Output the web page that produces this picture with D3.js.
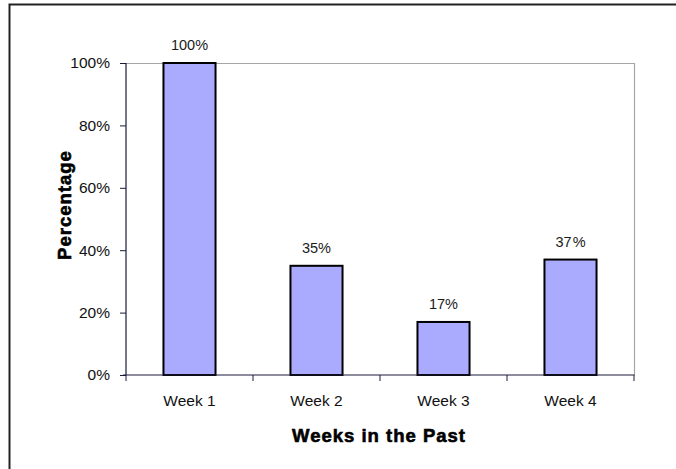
<!DOCTYPE html>
<html>
<head>
<meta charset="utf-8">
<script src="https://cdn.jsdelivr.net/npm/d3@7"></script>
<style>
  html, body { margin: 0; padding: 0; background: #fff; }
  svg { display: block; font-family: "Liberation Sans", Arial, sans-serif; }
</style>
</head>
<body>
<svg id="chart" width="676" height="469"></svg>
<script>
// Share of respondents by week
const categories = ["Week 1", "Week 2", "Week 3", "Week 4"];
const values = [100, 35, 17, 37];
const valueLabels = ["100%", "35%", "17%", "37\u200A%"];
const yTicks = [0, 20, 40, 60, 80, 100];

const svg = d3.select("#chart");
const plot = { left: 126, top: 63, right: 634, bottom: 375 };

// outer frame
svg.append("rect")
  .attr("x", 9.5).attr("y", 4.5)
  .attr("width", 700).attr("height", 500)
  .attr("fill", "none").attr("stroke", "#222").attr("stroke-width", 2);

const x = d3.scaleBand().domain(categories).range([plot.left, plot.right]).paddingInner(0.59).paddingOuter(0.295);
const xOuter = d3.scaleBand().domain(categories).range([plot.left, plot.right]);
const y = d3.scaleLinear().domain([0, 100]).range([plot.bottom, plot.top]);

// plot area border (top and right)
svg.append("path")
  .attr("d", `M${plot.left},${plot.top + 0.5}H${plot.right + 0.5}V${plot.bottom}`)
  .attr("fill", "none").attr("stroke", "#a6a6a6").attr("stroke-width", 1.2);

// bars
svg.append("g").selectAll("rect").data(values).join("rect")
  .attr("x", (d, i) => x(categories[i]))
  .attr("y", d => y(d))
  .attr("width", x.bandwidth())
  .attr("height", d => y(0) - y(d))
  .attr("fill", "#aaaaff")
  .attr("stroke", "#000").attr("stroke-width", 2);

// value labels
svg.append("g").selectAll("text").data(values).join("text")
  .attr("x", (d, i) => x(categories[i]) + x.bandwidth() / 2)
  .attr("y", d => y(d) - 13)
  .attr("text-anchor", "middle")
  .attr("font-size", 14.5).attr("fill", "#1a1a1a")
  .text((d, i) => valueLabels[i]);

// y axis
const yAxis = svg.append("g").attr("transform", `translate(${plot.left},0)`)
  .call(d3.axisLeft(y).tickValues(yTicks).tickSize(6).tickFormat(d => d + "%"));
yAxis.select(".domain").attr("stroke", "#1a1a3a").attr("stroke-width", 1.2).attr("d", `M0,${plot.top}V${plot.bottom}`);
yAxis.selectAll(".tick line").attr("stroke", "#1a1a3a");
yAxis.selectAll(".tick text").attr("font-size", 15.5).attr("fill", "#111").attr("x", -16)
  .attr("font-family", "Liberation Sans, Arial, sans-serif");

// x axis with ticks at category boundaries
const xg = svg.append("g").attr("transform", `translate(0,${plot.bottom})`);
xg.append("line").attr("x1", plot.left - 3).attr("x2", plot.right + 0.5)
  .attr("stroke", "#1a1a3a").attr("stroke-width", 1.2);
const bounds = categories.map(c => xOuter(c)).concat([plot.right]);
xg.selectAll("line.tk").data(bounds).join("line").attr("class", "tk")
  .attr("x1", d => d).attr("x2", d => d).attr("y1", 0).attr("y2", 6)
  .attr("stroke", "#1a1a3a");
xg.selectAll("text").data(categories).join("text")
  .attr("x", d => xOuter(d) + xOuter.bandwidth() / 2)
  .attr("y", 30.5)
  .attr("text-anchor", "middle")
  .attr("font-size", 15.5).attr("fill", "#111")
  .text(d => d);

// axis titles
svg.append("text")
  .attr("x", 379)
  .attr("y", 442)
  .attr("text-anchor", "middle")
  .attr("font-size", 18.5).attr("font-weight", "bold").attr("letter-spacing", 1)
  .attr("stroke", "#000").attr("stroke-width", 0.6)
  .text("Weeks in the Past");

svg.append("text")
  .attr("transform", "translate(71,205) rotate(-90)")
  .attr("text-anchor", "middle")
  .attr("font-size", 18.5).attr("font-weight", "bold").attr("letter-spacing", 1)
  .attr("stroke", "#000").attr("stroke-width", 0.6)
  .text("Percentage");
</script>
</body>
</html>
